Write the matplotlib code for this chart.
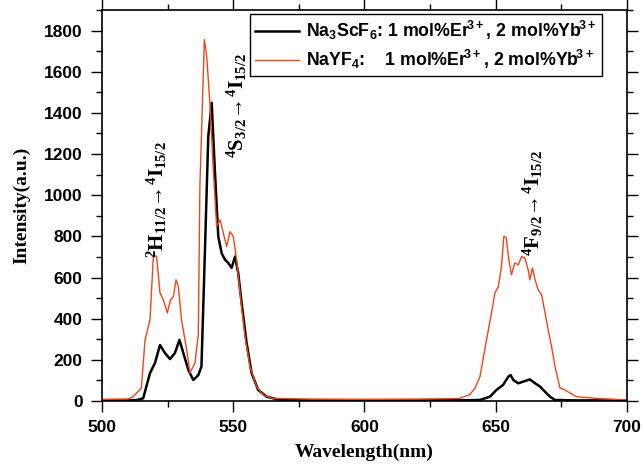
import numpy as np
import matplotlib
matplotlib.use('Agg')
import matplotlib.pyplot as plt
from matplotlib.ticker import MultipleLocator

plt.rcParams['mathtext.fontset'] = 'custom'
plt.rcParams['mathtext.rm'] = 'Liberation Serif:bold'
plt.rcParams['mathtext.sf'] = 'Liberation Sans:bold'
plt.rcParams['mathtext.bf'] = 'Liberation Sans:bold'

# Na3ScF6 (black) spectrum
wl_black = [500, 505, 510, 513, 515.7, 518.3, 520.2, 522.1, 524, 525.9, 527.8, 529.5,
            531, 532.9, 534.8, 536.7, 537.9, 539.2, 540.5, 541.8, 543, 544.3, 545.6,
            546.9, 548.1, 549.4, 550.7, 551.9, 553.2, 555.1, 557, 559.5, 562.7, 567.8,
            580, 600, 620, 640, 644, 647.8, 650.3, 652.8, 654.8, 655.7, 656.7, 658.6,
            660.5, 663, 665, 666.9, 668.8, 670.7, 672.6, 680, 690, 700]
int_black = [3, 3, 3, 4, 13, 136, 185, 272, 233, 204, 233, 297,
             233, 151, 102, 126, 167, 720, 1286, 1449, 1124, 800, 718,
             686, 671, 647, 702, 622, 477, 282, 136, 54, 21, 5,
             4, 4, 4, 4, 5, 21, 54, 78, 118, 126, 102, 86,
             94, 105, 86, 70, 45, 21, 5, 3, 3, 3]

# NaYF4 (red) spectrum
wl_red = [500, 505, 510, 511.8, 515, 516.4, 518.3, 519.6, 520.8, 522.1, 523.4, 524.9,
          526.1, 527.2, 528.2, 529.1, 530.3, 532.3, 533.5, 535.4, 536.7, 537.3, 539,
          539.9, 541.1, 542.4, 543.7, 545, 546.2, 547.5, 548.8, 550, 551.3, 552.6,
          554.5, 556.4, 558.9, 561.4, 565, 580, 600, 620, 636, 640, 642, 644, 646.5,
          648.4, 649.7, 651, 652.2, 653.1, 654, 655, 656, 657.3, 658.6, 659.9, 661.1,
          662.4, 663, 664, 665, 666.2, 667.5, 668.8, 670, 671.3, 672.6, 674.5, 676.4,
          678.3, 680.8, 688, 700]
int_red = [8, 9, 10, 20, 63, 297, 395, 710, 702, 525, 491, 428,
           491, 507, 589, 556, 394, 248, 136, 184, 320, 1040, 1756,
           1675, 1449, 1124, 848, 880, 817, 750, 823, 800, 686, 525,
           313, 167, 70, 29, 13, 9, 8, 9, 12, 30, 60, 118, 297,
           428, 525, 556, 653, 800, 795, 686, 613, 671, 662, 702, 695,
           637, 589, 647, 589, 540, 516, 428, 345, 264, 167, 63, 54,
           39, 21, 13, 5]

label_black = (r'Na$\mathsf{_3}$ScF$\mathsf{_6}$: 1 mol%$\mathsf{Er^{\!3+}}$, '
               r'2 mol%$\mathsf{Yb^{\!3+}}$')
label_red = (r'NaYF$\mathsf{_4}$:    1 mol%$\mathsf{Er^{\!3+}}$, '
             r'2 mol%$\mathsf{Yb^{\!3+}}$')

# transition labels: text, x (nm), bottom y (a.u.)
trans_text = [r'$\mathrm{^2H_{11/2}\!\rightarrow\!^4I_{15/2}}$',
              r'$\mathrm{^4S_{3/2}\!\rightarrow\!^4I_{15/2}}$',
              r'$\mathrm{^4F_{9/2}\!\rightarrow\!^4I_{15/2}}$']
trans_x = [521, 551.5, 664]
trans_y = [696, 1182, 705]

fig = plt.figure(figsize=(6.43, 4.69), dpi=100)
ax = fig.add_axes([0.1586, 0.145, 0.975 - 0.1586, 0.9787 - 0.145])

ax.plot(wl_black, int_black, color='black', lw=1.8, label=label_black)
ax.plot(wl_red, int_red, color='#f04515', lw=1.0, label=label_red)

ax.set_xlim(500, 700)
ax.set_ylim(0, 1900)
ax.xaxis.set_major_locator(MultipleLocator(50))
ax.xaxis.set_minor_locator(MultipleLocator(25))
ax.yaxis.set_major_locator(MultipleLocator(200))
ax.yaxis.set_minor_locator(MultipleLocator(100))
ax.tick_params(which='both', direction='out', labelsize=12.5, width=1.0)
ax.tick_params(which='major', length=8, pad=6)
ax.tick_params(which='minor', length=4)
ax.tick_params(which='both', top=True, right=True)
for lab in ax.get_xticklabels() + ax.get_yticklabels():
    lab.set_fontfamily('Liberation Sans')
    lab.set_fontweight('bold')
for sp in ax.spines.values():
    sp.set_linewidth(1.2)

ax.set_xlabel('Wavelength(nm)', family='Liberation Serif', fontweight='bold',
              fontsize=14, labelpad=6)
ax.set_ylabel('Intensity(a.u.)', family='Liberation Serif', fontweight='bold',
              fontsize=14, labelpad=10)

leg = ax.legend(loc='upper right', bbox_to_anchor=(0.952, 0.99), borderaxespad=0,
                prop={'family': 'Liberation Sans', 'weight': 'bold', 'size': 12.8},
                fancybox=False, edgecolor='black', framealpha=1,
                handlelength=2.5, borderpad=0.3, labelspacing=0.3,
                handletextpad=0.35)
leg.get_frame().set_linewidth(1.0)

for txt, x, y in zip(trans_text, trans_x, trans_y):
    ax.text(x, y, txt, rotation=90, ha='center', va='bottom', fontsize=15,
            family='Liberation Serif')

fig.savefig('out.png', dpi=100)
